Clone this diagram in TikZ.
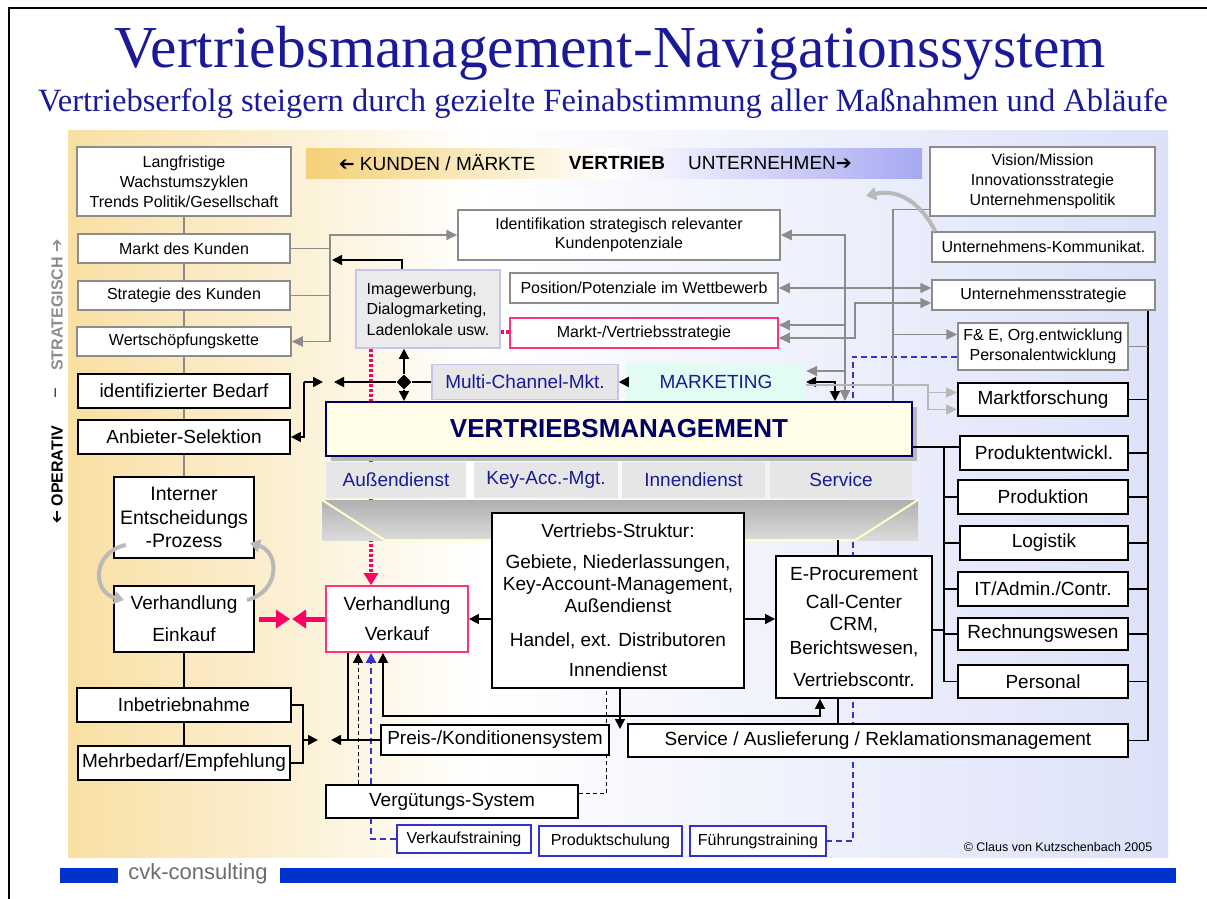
\documentclass[tikz,border=0pt]{standalone}
\usepackage{fontspec}
\setmainfont{Liberation Sans}
\newfontfamily\titlefont{Liberation Serif}
\newfontfamily\symfont{DejaVu Sans}
\usetikzlibrary{arrows.meta,shapes.geometric,shadows}
\pgfdeclarelayer{back}
\pgfsetlayers{back,main}
\newcommand{\fsz}[2]{\fontsize{#1}{#2}\selectfont}
\newcommand{\rarr}{{\symfont\bfseries ➔}}
\newcommand{\larr}{\reflectbox{\symfont\bfseries ➔}}

\begin{document}
\begin{tikzpicture}[x=1pt,y=-1pt,
		gbox/.style={draw=cgray, line width=1.5pt, fill=white, inner sep=1pt, align=center, font=\fsz{16}{20}},
		bbox/.style={draw=black, line width=1.8pt, fill=white, inner sep=1pt, align=center, font=\fsz{19}{22}},
		tbox/.style={draw=cblue, line width=1.5pt, fill=white, inner sep=1pt, font=\fsz{16}{20}, minimum height=30pt},
		secbox/.style={fill=csec, inner sep=1pt, text=ctitle, font=\fsz{19}{22}, minimum height=36pt},
		gline/.style={draw=cgray, line width=1.8pt},
		garr/.style={gline, -{Triangle[length=11pt,width=10pt]}},
		garrs/.style={gline, {Triangle[length=11pt,width=10pt]}-{Triangle[length=11pt,width=10pt]}},
		lgarr/.style={draw=clgray, line width=1.8pt, -{Triangle[length=11pt,width=10pt]}},
		bline/.style={draw=black, line width=1.6pt},
		barr/.style={bline, -{Triangle[length=10pt,width=10pt]}},
		barrs/.style={bline, {Triangle[length=10pt,width=10pt]}-{Triangle[length=10pt,width=10pt]}},
		bdash/.style={draw=black, line width=1pt, dash pattern=on 4pt off 3pt, -{Triangle[length=10pt,width=10pt]}},
		bdashline/.style={draw=black, line width=1pt, dash pattern=on 4pt off 3pt},
		bldash/.style={draw=cblue, line width=2pt, dash pattern=on 6pt off 4pt},
		bldasharr/.style={bldash, -{Triangle[length=10pt,width=10pt]}},
		pinkdot/.style={draw=cpink, line width=4pt, dash pattern=on 3pt off 2pt},
		pinkarr/.style={draw=cpink, line width=5pt, -{Triangle[length=14pt,width=18pt]}},
		curvarr/.style={draw=gray!55, line width=4pt, -{Triangle[length=10pt,width=13pt]}}]
	\definecolor{cgray}{HTML}{8C8C8C}
	\definecolor{clgray}{HTML}{B8B8B8}
	\definecolor{ctitle}{HTML}{1A1A99}
	\definecolor{cnavy}{HTML}{000066}
	\definecolor{csec}{HTML}{E6E6E6}
	\definecolor{cpink}{HTML}{FF0066}
	\definecolor{cpinkbox}{HTML}{FF3377}
	\definecolor{cblue}{HTML}{3333CC}
	\definecolor{cbar}{HTML}{0033CC}
	\definecolor{corange}{HTML}{F8DFA3}
	\definecolor{clav}{HTML}{DCE1F8}
	\definecolor{cbanL}{HTML}{F4D077}
	\definecolor{cbanR}{HTML}{A6A8F2}
	\definecolor{ccream}{HTML}{FFFCE8}
	\definecolor{cmint}{HTML}{E2FBF3}
	\definecolor{cimg}{HTML}{EBEBEB}
	\definecolor{cimgB}{HTML}{C4C4F0}
	\definecolor{cyell}{HTML}{FFFFC8}
	\useasboundingbox (0,0) rectangle (1207,899);
	%% Background ------
	\begin{pgfonlayer}{back}
		\shade[left color=corange, right color=white] (68,130) rectangle (480,857);
		\shade[left color=white, right color=clav] (480,130) rectangle (1168,857);
	\end{pgfonlayer}
	\draw[line width=1.2pt] (9,899) -- (9,8) -- (1207,8);
	\node[font=\titlefont\fsz{59.5}{61}, text=ctitle] (title) at (610,53) {Vertriebsmanagement-Navigationssystem};
	\node[font=\titlefont\fsz{32.5}{34}, text=ctitle] (subtitle) at (603,104) {Vertriebserfolg steigern durch gezielte Feinabstimmung aller Maßnahmen und Abläufe};
	\node[minimum width=616pt, minimum height=30pt, inner sep=0pt, left color=cbanL, right color=cbanR, middle color=white] (banner) at (614,163) {};
	\node[font=\fsz{19}{20}] (kunden) at (437,163) {\larr{} KUNDEN / MÄRKTE};
	\node[font=\bfseries\fsz{19}{20}] (vertrieb) at (617,163) {VERTRIEB};
	\node[font=\fsz{19}{20}] (untern) at (770,163) {UNTERNEHMEN\rarr};
	\node[rotate=90, text=cgray, font=\bfseries\fsz{16}{16}] (strat) at (57,305) {STRATEGISCH \rarr};
	\node[rotate=90, font=\fsz{16}{16}] (sep) at (57,393) {–};
	\node[rotate=90, font=\bfseries\fsz{16}{16}] (oper) at (57,475) {\larr{} OPERATIV};
	%% Left column ------
	\node[gbox, minimum width=214pt, minimum height=69pt] (lang) at (184,181.5) {Langfristige\\Wachstumszyklen\\Trends Politik/Gesellschaft};
	\node[gbox, minimum width=212pt, minimum height=29pt] (mdk) at (184,248.5) {Markt des Kunden};
	\node[gbox, minimum width=212pt, minimum height=29pt] (sdk) at (184,295.5) {Strategie des Kunden};
	\node[gbox, minimum width=214pt, minimum height=29pt] (wsk) at (184,341.5) {Wertschöpfungskette};
	\node[bbox, minimum width=212pt, minimum height=34pt] (bedarf) at (184,391) {identifizierter Bedarf};
	\node[bbox, minimum width=212pt, minimum height=34pt] (anbieter) at (184,437) {Anbieter-Selektion};
	\node[bbox, minimum width=140pt, minimum height=81pt, font=\fsz{19.5}{23.5}] (intern) at (184,517.5) {Interner\\Entscheidungs\\-Prozess};
	\node[bbox, minimum width=140pt, minimum height=66pt] (einkauf) at (184,619) {Verhandlung\\[10pt]Einkauf};
	\node[bbox, minimum width=214pt, minimum height=34pt] (inbetr) at (184,705) {Inbetriebnahme};
	\node[bbox, minimum width=212pt, minimum height=34pt] (mehrb) at (184,763) {Mehrbedarf/Empfehlung};
	%% Middle ------
	\node[gbox, minimum width=322pt, minimum height=50pt, font=\fsz{16}{19}] (ident) at (619,235) {Identifikation strategisch relevanter\\Kundenpotenziale};
	\node[gbox, minimum width=268pt, minimum height=30pt] (position) at (644,288) {Position/Potenziale im Wettbewerb};
	\node[gbox, draw=cpinkbox, minimum width=268pt, minimum height=30pt] (mvs) at (644,333) {Markt-/Vertriebsstrategie};
	\node[draw=cimgB, line width=1.5pt, fill=cimg, minimum width=144pt, minimum height=78pt, align=left, inner sep=1pt, font=\fsz{16}{20.5}] (imagew) at (428,309) {Imagewerbung,\\Dialogmarketing,\\Ladenlokale usw.};
	\node[draw=cimgB, line width=1.5pt, fill=csec, minimum width=186pt, minimum height=35pt, inner sep=1pt, text=ctitle, font=\fsz{19}{22}] (multi) at (525,382) {Multi-Channel-Mkt.};
	\node[fill=cmint, minimum width=180pt, minimum height=38pt, inner sep=1pt, text=ctitle, font=\fsz{19}{22}] (marketing) at (716,382) {MARKETING};
	\node[draw=cnavy, line width=2pt, fill=ccream, minimum width=586pt, minimum height=54pt, text=cnavy, font=\bfseries\fsz{26}{28}, drop shadow={shadow xshift=5pt, shadow yshift=-5pt, fill=gray!55, opacity=1}] (vm) at (619,429) {VERTRIEBSMANAGEMENT};
	\node[secbox, minimum width=140pt] (ad) at (396,480) {Außendienst};
	\node[secbox, minimum width=144pt] (kam) at (546,480) {Key-Acc.-Mgt.};
	\node[secbox, minimum width=143pt] (innen) at (693.5,480) {Innendienst};
	\node[secbox, minimum width=142pt] (svc) at (841,480) {Service};
	\node[minimum width=596pt, minimum height=40pt, inner sep=0pt, top color=gray!62, bottom color=gray!28] (tray) at (620,520) {};
	\draw[cyell, line width=2pt] (tray.north west) -- ([xshift=63pt]tray.south west) -- ([xshift=-63pt]tray.south east) -- (tray.north east);
	\node[bbox, minimum width=252pt, minimum height=175pt] (vstr) at (618,600.5) {Vertriebs-Struktur:\\[9pt]Gebiete, Niederlassungen,\\Key-Account-Management,\\Außendienst\\[12pt]Handel, ext. Distributoren\\[8pt]Innendienst};
	\node[bbox, minimum width=156pt, minimum height=142pt] (eproc) at (854,627) {E-Procurement\\[6pt]Call-Center\\CRM,\\[2pt]Berichtswesen,\\[10pt]Vertriebscontr.};
	\node[bbox, draw=cpinkbox, minimum width=142pt, minimum height=66pt] (verkauf) at (397,619) {Verhandlung\\[8pt]Verkauf};
	\node[bbox, minimum width=228pt, minimum height=30pt] (preis) at (495,740) {Preis-/Konditionensystem};
	\node[bbox, minimum width=500pt, minimum height=33pt] (serv) at (878,740.5) {Service / Auslieferung / Reklamationsmanagement};
	\node[bbox, minimum width=252pt, minimum height=33pt] (verg) at (452,801.5) {Vergütungs-System};
	\node[tbox, minimum width=134pt, minimum height=28pt] (vtrain) at (464,839) {Verkaufstraining};
	\node[tbox, minimum width=143pt] (pschul) at (610.5,841) {Produktschulung};
	\node[tbox, minimum width=136pt] (ftrain) at (758,841) {Führungstraining};
	%% Right column ------
	\node[gbox, minimum width=225pt, minimum height=69pt] (vision) at (1042.5,181.5) {Vision/Mission\\Innovationsstrategie\\Unternehmenspolitik};
	\node[gbox, minimum width=223pt, minimum height=30pt] (ukomm) at (1043.5,247) {Unternehmens-Kommunikat.};
	\node[gbox, minimum width=223pt, minimum height=30pt] (ustrat) at (1043.5,295) {Unternehmensstrategie};
	\node[gbox, minimum width=170pt, minimum height=47pt] (fue) at (1043,346.5) {F\& E, Org.entwicklung\\Personalentwicklung};
	\node[bbox, minimum width=170pt, minimum height=33pt] (mfor) at (1043,399.5) {Marktforschung};
	\node[bbox, minimum width=168pt, minimum height=34pt] (pentw) at (1044,453) {Produktentwickl.};
	\node[bbox, minimum width=170pt, minimum height=34pt] (prod) at (1043,497) {Produktion};
	\node[bbox, minimum width=168pt, minimum height=34pt] (logi) at (1044,543) {Logistik};
	\node[bbox, minimum width=170pt, minimum height=34pt] (itad) at (1043,589) {IT/Admin./Contr.};
	\node[bbox, minimum width=170pt, minimum height=32pt] (rewe) at (1043,634) {Rechnungswesen};
	\node[bbox, minimum width=170pt, minimum height=33pt] (pers) at (1043,681.5) {Personal};
	\node[font=\fsz{12.5}{14}] (copy) at (1058,847) {© Claus von Kutzschenbach 2005};
	%% Footer ------
	\fill[cbar] (60,868) rectangle (118,883);
	\fill[cbar] (280,868) rectangle (1176,883);
	\node[text=gray!85!black, font=\fsz{22}{24}] (cvk) at (198,874) {cvk-consulting};
	%% Junctions ------
	\coordinate (jL) at (330,300);
	\coordinate (jLb) at (332,260);
	\coordinate (jA) at (304,382);
	\coordinate (jAr) at (323,382);
	\coordinate (jM) at (334,382);
	\coordinate (jR1) at (845,300);
	\coordinate (jR2) at (893,300);
	\coordinate (jR3) at (855,320);
	\coordinate (jR4) at (928,400);
	\coordinate (jK) at (866,196);
	\coordinate (jB) at (853,600);
	\coordinate (jV) at (1148,500);
	\coordinate (jW) at (944,500);
	\coordinate (jS) at (620,729);
	\coordinate (jE) at (600,716);
	\coordinate (jP) at (331,740);
	\coordinate (jI) at (303,740);
	\coordinate (jIr) at (318,740);
	\coordinate (jX) at (291,619);
	\coordinate (cA) at (126,545);
	\coordinate (cB) at (124,600);
	\coordinate (cC) at (247,600);
	\coordinate (cD) at (250,543);
	\node[diamond, fill=black, minimum size=15pt, inner sep=0pt] (dia) at (404,382) {};
	%% Connectors ------
	\foreach \a/\b in {lang/mdk, mdk/sdk, sdk/wsk, wsk/bedarf, bedarf/anbieter, anbieter/intern}
		\draw[gline] (\a) -- (\b);
	\foreach \a/\b in {einkauf/inbetr, inbetr/mehrb}
		\draw[bline] (\a) -- (\b);
	\draw[gline] (mdk.east) -- (mdk.east -| jL);
	\draw[gline] (sdk.east) -- (sdk.east -| jL);
	\draw[garr] (wsk.east -| jL) |- (ident.west);
	\draw[garr] (wsk.east -| jL) -- (wsk.east);
	\draw[barr] ([xshift=-26pt]imagew.north) |- (jLb);
	\draw[bline] (dia) -- (multi);
	\draw[barr] (dia) -- (jM);
	\draw[barr] (dia) -- (dia |- imagew.south);
	\draw[barr] (dia) -- (dia |- vm.north);
	\draw[barr] (jA) -- (jAr);
	\draw[barr] (jA) |- (anbieter.east);
	\draw[barr] (marketing) -- (multi);
	\draw[barrs] (marketing.east) -| ([xshift=216pt]vm.north);
	\draw[garrs] (ident.east) -| ([xshift=226pt]vm.north);
	\draw[garrs] (position.east) -- (position.east -| ustrat.west);
	\draw[garr] ([yshift=8pt]mvs.east -| jR1) -- ([yshift=8pt]mvs.east);
	\draw[garrs] ([yshift=-5pt]mvs.east) -| (jR3) |- ([yshift=-8pt]ustrat.west);
	\draw[garr] ([yshift=11pt]marketing.east -| jR1) -- ([yshift=11pt]marketing.east);
	\draw[gline] ([yshift=-28pt]vision.west) -| ([xshift=274pt]vm.north);
	\draw[garr] ([yshift=12pt]fue.west -| jR2) -- ([yshift=12pt]fue.west);
	\draw[lgarr] ([yshift=-3pt]marketing.east) -| (jR4) |- ([yshift=-10pt]mfor.west);
	\draw[lgarr] ([yshift=7pt]mfor.west -| jR4) -- ([yshift=7pt]mfor.west);
	\draw[curvarr] ([xshift=4pt]ukomm.north west) .. controls (922,205) and (900,188) .. (jK);
	\draw[bline] (ustrat.south -| jV) |- (serv.east);
	\foreach \n in {mfor,pentw,prod,logi,itad,rewe,pers}
		\draw[bline] (\n.east) -- (\n.east -| jV);
	\draw[gline] (fue.east) -- (fue.east -| jV);
	\draw[bline] ([yshift=6pt]pentw.west) -- ([yshift=6pt]pentw.west -| vm.east);
	\draw[bline] ([yshift=6pt]pentw.west -| jW) |- (pers.west);
	\foreach \n in {prod,logi,itad,rewe}
		\draw[bline] (\n.west -| jW) -- (\n.west);
	\draw[bline] ([yshift=-3pt]eproc.east) -- ([yshift=-3pt]eproc.east -| jW);
	\draw[barr] (vstr.west |- verkauf.east) -- (verkauf.east);
	\draw[barr] (vstr.east |- verkauf.east) -- (eproc.west |- verkauf.east);
	\draw[barr] (vstr.south -| jS) -- (jS);
	\draw[bline] ([xshift=-16pt]eproc.north) -- ([xshift=-16pt]eproc.north |- tray.south);
	\draw[bline] ([xshift=-16pt]eproc.south) -- ([xshift=-16pt]eproc.south |- serv.north);
	\draw[barrs] ([xshift=-14pt]verkauf.south) |- (jE) -| ([xshift=-34pt]eproc.south);
	\draw[barr] ([xshift=-49pt]verkauf.south) |- (jP);
	\draw[bline] (preis.west) -- ([xshift=-49pt]verkauf.south |- preis.west);
	\draw[bline] (inbetr.east) -| (jI) |- (mehrb.east);
	\draw[barr] (jI) -- (jIr);
	\draw[bdash] ([xshift=-94pt]verg.north) -- ([xshift=-94pt]verg.north |- verkauf.south);
	\draw[pinkdot] ([yshift=-23pt]imagew.east) -- ([yshift=-23pt]imagew.east -| mvs.west);
	\draw[pinkarr] ([xshift=4pt]einkauf.east) -- ([xshift=-1pt]jX);
	\draw[pinkarr] (verkauf.west) -- ([xshift=1pt]jX);
	\draw[curvarr] (cA) .. controls (92,552) and (92,592) .. (cB);
	\draw[curvarr] (cC) .. controls (280,592) and (280,552) .. (cD);
	\begin{pgfonlayer}{back}
		\draw[bldash] ([yshift=-10pt]fue.west) -| (jB) |- (ftrain.east);
		\draw[bldasharr] (vtrain.west) -| ([xshift=-26pt]verkauf.south);
		\draw[bdashline] ([yshift=8pt]verg.east) -| ([xshift=-12pt]vstr.south);
		\draw[pinkdot, -{Triangle[length=12pt,width=14pt]}] ([xshift=-57pt]imagew.south) -- ([xshift=-26pt]verkauf.north);
	\end{pgfonlayer}
\end{tikzpicture}
\end{document}
